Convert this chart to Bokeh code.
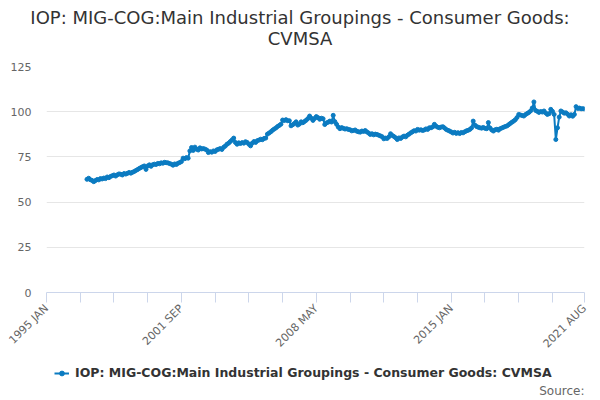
import math
from bokeh.plotting import figure
from bokeh.layouts import column
from bokeh.models import FixedTicker, Legend, LegendItem, ColumnDataSource, Range1d, Label, Div
from bokeh.embed import file_html
from bokeh.resources import INLINE

# ---------------- data ----------------
MONTHS = ["JAN", "FEB", "MAR", "APR", "MAY", "JUN", "JUL", "AUG", "SEP", "OCT", "NOV", "DEC"]
categories = [f"{y} {m}" for y in range(1995, 2022) for m in MONTHS][: (2021 - 1995) * 12 + 8]
data_start = "1997 JAN"

v1997 = [62.6, 63.2, 62.4, 62.0, 61.3, 61.9, 62.5, 62.3, 63.0, 62.8, 63.3, 63.0]
v1998 = [63.9, 63.5, 64.2, 64.6, 65.0, 64.4, 65.1, 65.6, 65.4, 65.0, 65.8, 65.5]
v1999 = [65.9, 66.4, 66.0, 66.5, 66.9, 67.5, 68.0, 68.6, 69.1, 69.6, 70.0, 68.1]
v2000 = [70.0, 70.6, 69.8, 70.7, 71.0, 70.8, 71.4, 71.2, 71.7, 71.5, 72.0, 71.8]
v2001 = [71.7, 71.3, 71.0, 70.4, 71.1, 70.8, 71.5, 71.9, 72.4, 74.3, 74.0, 74.6]
v2002 = [74.3, 78.3, 80.2, 78.6, 80.4, 79.3, 78.8, 80.0, 79.4, 79.6, 79.3, 78.8]
v2003 = [77.4, 77.9, 77.6, 78.3, 78.0, 78.9, 79.2, 79.6, 79.1, 80.3, 81.0, 82.0]
v2004 = [82.6, 83.5, 84.4, 85.4, 83.0, 82.0, 82.8, 82.4, 82.9, 82.6, 83.4, 83.0]
v2005 = [82.0, 81.1, 82.6, 83.5, 83.0, 84.0, 84.3, 84.8, 84.5, 85.2, 85.4, 87.6]
v2006 = [88.2, 88.9, 89.7, 90.4, 91.0, 91.8, 92.4, 93.1, 95.4, 95.1, 95.6, 95.0]
v2007 = [95.0, 92.2, 92.8, 93.5, 94.4, 92.6, 93.2, 94.4, 93.9, 94.6, 95.3, 96.2]
v2008 = [97.6, 96.4, 95.2, 96.3, 97.3, 96.7, 95.8, 96.4, 96.1, 92.9, 93.8, 94.2]
v2009 = [94.8, 94.3, 98.0, 94.5, 93.0, 91.5, 90.6, 91.2, 90.8, 90.4, 90.6, 90.2]
v2010 = [90.0, 89.4, 89.6, 89.9, 89.2, 88.9, 88.7, 89.3, 89.1, 89.6, 88.8, 88.2]
v2011 = [87.4, 87.8, 87.2, 87.6, 87.4, 87.0, 86.6, 86.2, 85.0, 85.4, 85.2, 86.1]
v2012 = [87.8, 86.9, 86.3, 85.6, 84.6, 85.5, 85.2, 86.0, 86.5, 86.1, 87.0, 87.6]
v2013 = [88.3, 88.9, 89.5, 89.3, 90.2, 89.8, 90.0, 89.6, 89.9, 90.5, 90.2, 91.1]
v2014 = [91.1, 91.6, 93.0, 92.0, 91.4, 91.1, 91.5, 91.7, 91.0, 90.2, 89.7, 89.3]
v2015 = [88.8, 88.2, 88.6, 88.0, 88.4, 87.9, 88.5, 88.3, 88.9, 89.4, 89.7, 90.2]
v2016 = [91.0, 94.8, 92.6, 91.8, 91.4, 91.1, 90.9, 91.3, 90.8, 90.6, 94.0, 91.0]
v2017 = [89.9, 89.3, 90.0, 90.3, 89.8, 90.6, 91.0, 91.4, 91.8, 92.1, 92.8, 93.5]
v2018 = [94.2, 94.8, 95.6, 96.8, 98.5, 98.2, 97.9, 97.6, 98.4, 99.0, 99.6, 100.4]
v2019 = [102.0, 105.4, 100.7, 100.2, 99.6, 100.1, 99.8, 100.4, 99.3, 98.5, 98.9, 101.3]
v2020 = [100.2, 98.5, 84.6, 91.1, 97.0, 100.4, 99.8, 99.2, 99.4, 98.6, 97.6, 98.3]
v2021 = [97.5, 98.5, 102.8, 101.8, 102.0, 101.6, 101.7, 101.5]

values = (v1997 + v1998 + v1999 + v2000 + v2001 + v2002 + v2003 + v2004 + v2005
          + v2006 + v2007 + v2008 + v2009 + v2010 + v2011 + v2012 + v2013 + v2014
          + v2015 + v2016 + v2017 + v2018 + v2019 + v2020 + v2021)

series_name = "IOP: MIG-COG:Main Industrial Groupings - Consumer Goods: CVMSA"
title_line1 = "IOP: MIG-COG:Main Industrial Groupings - Consumer Goods:"
title_line2 = "CVMSA"
source_text = "Source:"
y_ticks = [0, 25, 50, 75, 100, 125]
x_tick_step = 20
x_label_step = 80

# ---------------- build ----------------
start = categories.index(data_start)
xs = list(range(start, start + len(values)))
src = ColumnDataSource(dict(x=xs, y=values))
n = len(categories)

FONT = "DejaVu Sans"
BLUE = "#0b7bc1"

# header: two centred title lines
header = Div(text=f"<div style='padding-top:7px'>{title_line1}<br>{title_line2}</div>",
             width=600, height=49, margin=0,
             styles={"text-align": "center", "font-family": FONT, "font-size": "18px",
                     "line-height": "21px", "color": "#333333", "white-space": "nowrap"})

p = figure(frame_width=538, frame_height=226, output_backend="svg", toolbar_location=None,
           x_range=Range1d(0, n - 1), y_range=Range1d(0, 125),
           min_border_left=46, min_border_right=16, min_border_top=17, min_border_bottom=66)
p.outline_line_color = None
p.background_fill_color = "white"
p.border_fill_color = "white"

line = p.line("x", "y", source=src, line_color=BLUE, line_width=2)
pts = p.scatter("x", "y", source=src, size=4, fill_color=BLUE, line_color=BLUE)

# x axis
tick_pos = list(range(0, n, x_tick_step)) + [n - 1]
p.xaxis.ticker = FixedTicker(ticks=tick_pos)
overrides = {}
for t in tick_pos:
    overrides[t] = categories[t] if (t % x_label_step == 0 or t == n - 1) else ""
p.xaxis.major_label_overrides = overrides
p.xaxis.major_label_orientation = math.pi / 4
p.xaxis.axis_line_color = "#ccd6eb"
p.xaxis.major_tick_line_color = "#ccd6eb"
p.xaxis.major_tick_out = 10
p.xaxis.major_tick_in = 0
p.xaxis.minor_tick_line_color = None
p.xaxis.major_label_text_color = "#666666"
p.xaxis.major_label_text_font = FONT
p.xaxis.major_label_text_font_size = "11px"
p.xaxis.major_label_standoff = 4
p.xgrid.grid_line_color = None

# y axis
p.yaxis.ticker = FixedTicker(ticks=y_ticks)
p.yaxis.axis_line_color = None
p.yaxis.major_tick_line_color = None
p.yaxis.major_tick_out = 0
p.yaxis.major_tick_in = 0
p.yaxis.minor_tick_line_color = None
p.yaxis.major_label_text_color = "#666666"
p.yaxis.major_label_text_font = FONT
p.yaxis.major_label_text_font_size = "11px"
p.yaxis.major_label_standoff = 15
p.ygrid.grid_line_color = "#e6e6e6"

# ---------------- footer: legend + source ----------------
# (its frame is aligned with the chart frame: page x 46..584)
f = figure(width=600, height=42, output_backend="svg", toolbar_location=None,
           x_range=Range1d(46, 584), y_range=Range1d(0, 42),
           min_border=0, x_axis_type=None, y_axis_type=None)
f.outline_line_color = None
f.xgrid.grid_line_color = None
f.ygrid.grid_line_color = None
key_line = f.line(x=[float("nan")], y=[float("nan")], line_color=BLUE, line_width=2)
key_pts = f.scatter(x=[float("nan")], y=[float("nan")], size=5, fill_color=BLUE, line_color=BLUE)

legend = Legend(items=[LegendItem(label=series_name, renderers=[key_line, key_pts])],
                orientation="horizontal", location=(8, 20),
                label_text_font=FONT, label_text_font_size="12.5px", label_text_font_style="bold",
                label_text_color="#333333", border_line_color=None, background_fill_alpha=0,
                glyph_width=15, glyph_height=12, padding=0, margin=0, label_standoff=6)
f.add_layout(legend)

f.add_layout(Label(x=584, y=10, text=source_text, text_align="right", text_baseline="middle",
                   text_font=FONT, text_font_size="12px", text_color="#666666"))

layout = column(header, p, f, spacing=0)
open("out.html", "w").write(file_html(layout, INLINE))
